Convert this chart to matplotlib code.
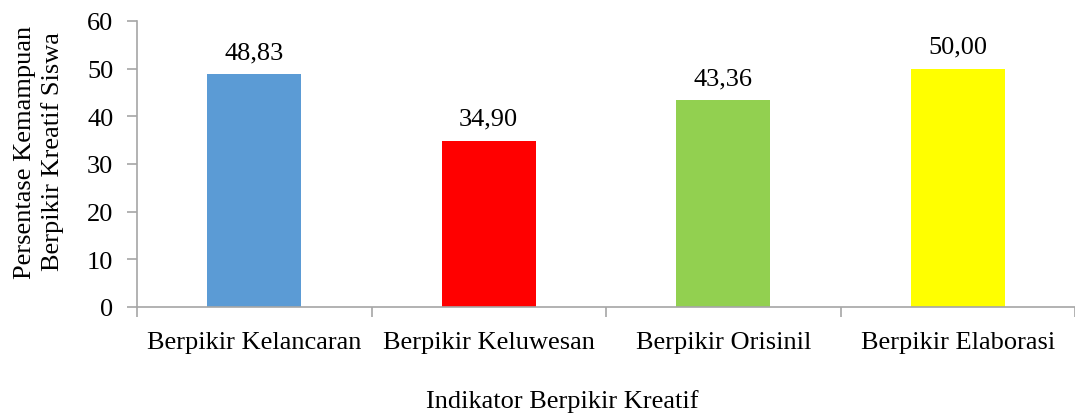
import matplotlib
matplotlib.use('Agg')
import matplotlib.pyplot as plt
from matplotlib.ticker import FixedLocator, NullFormatter

categories = ['Berpikir Kelancaran', 'Berpikir Keluwesan', 'Berpikir Orisinil', 'Berpikir Elaborasi']
values = [48.83, 34.90, 43.36, 50.00]
value_labels = ['48,83', '34,90', '43,36', '50,00']
colors = ['#5B9BD5', '#FF0000', '#92D050', '#FFFF00']

plt.rcParams['font.family'] = ['Liberation Serif', 'DejaVu Serif']
plt.rcParams['font.size'] = 19

W, H = 1075, 414
fig = plt.figure(figsize=(W / 100, H / 100), dpi=100)
ax = fig.add_axes([137 / W, 106 / H, 938 / W, 286 / H])

x = list(range(len(categories)))
bars = ax.bar(x, values, width=0.4, color=colors)
for b, lab in zip(bars, value_labels):
    ax.text(b.get_x() + b.get_width() / 2, b.get_height() + 3.4, lab,
            ha='center', va='baseline', fontsize=19)

ax.set_xlim(-0.5, len(categories) - 0.5)
ax.set_ylim(0, 60)
ax.set_yticks(range(0, 61, 10))
ax.set_xticks(x)
ax.set_xticklabels(categories, fontsize=19)
ax.xaxis.set_minor_locator(FixedLocator([i - 0.5 for i in range(len(categories) + 1)]))
ax.xaxis.set_minor_formatter(NullFormatter())
ax.tick_params(axis='x', which='major', length=0, pad=17)
ax.tick_params(axis='x', which='minor', length=7, color='#A6A6A6', width=1.2)
ax.tick_params(axis='y', length=7, color='#A6A6A6', width=1.2, pad=10, labelsize=19)

for s in ['top', 'right']:
    ax.spines[s].set_visible(False)
for s in ['left', 'bottom']:
    ax.spines[s].set_color('#A6A6A6')
    ax.spines[s].set_linewidth(1.2)

# axis titles placed in figure pixels, as in the original layout
fig.text(39 / W, 1 - 152 / H, 'Persentase Kemampuan\nBerpikir Kreatif Siswa',
         rotation=90, ha='center', va='center', fontsize=19, linespacing=1.3)
fig.text(562 / W, 1 / H, 'Indikator Berpikir Kreatif',
         ha='center', va='bottom', fontsize=19)

fig.savefig('out.png', dpi=100)
